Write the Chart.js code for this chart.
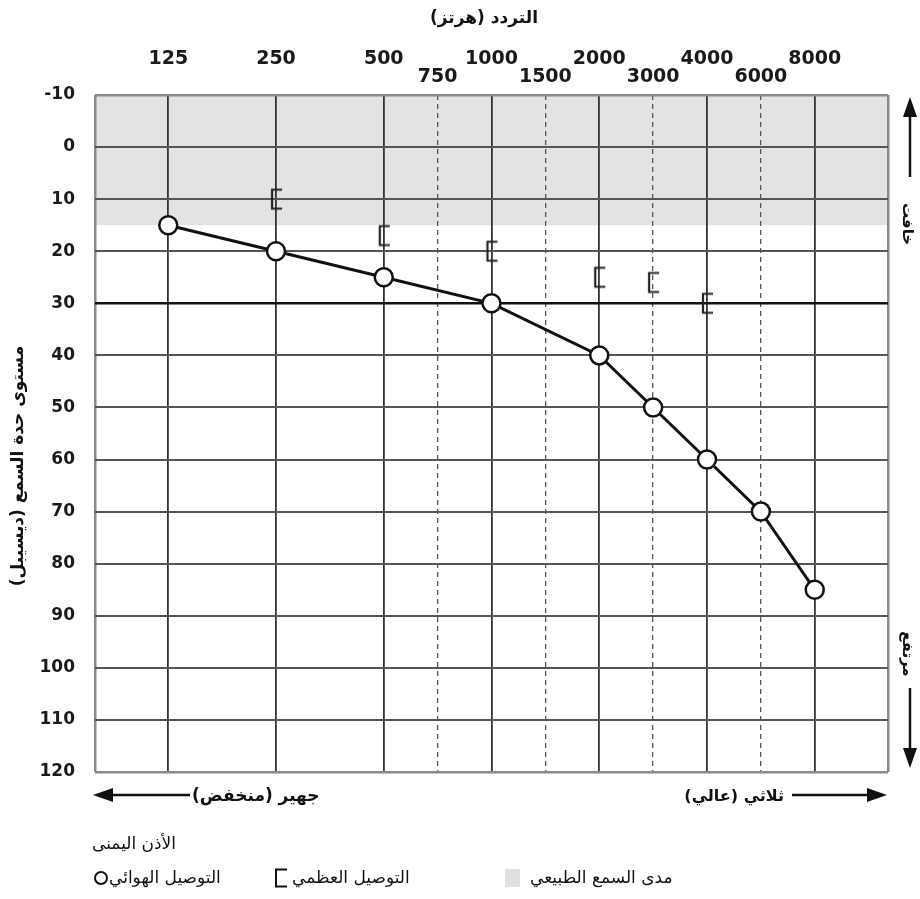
<!DOCTYPE html>
<html lang="ar">
<head>
<meta charset="utf-8">
<title>مخطط السمع</title>
<script src="https://cdn.jsdelivr.net/npm/chart.js@4.4.1/dist/chart.umd.min.js"></script>
<style>
  html, body { margin: 0; padding: 0; background: #fff; }
  canvas { display: block; }
</style>
</head>
<body>
<canvas id="audiogram" width="920" height="899"></canvas>
<script>
// air conduction (circles, joined by a line)
const airFreqs = [125, 250, 500, 1000, 2000, 3000, 4000, 6000, 8000];
const airDb = [15, 20, 25, 30, 40, 50, 60, 70, 85];

// bone conduction (brackets)
const boneFreqs = [250, 500, 1000, 2000, 3000, 4000];
const boneDb = [10, 17, 20, 25, 26, 30];

// axis ticks
const freqTicks = [125, 250, 500, 750, 1000, 1500, 2000, 3000, 4000, 6000, 8000];
const halfOctaves = [750, 1500, 3000, 6000];
const dbMin = -10;
const dbMax = 120;
const normalRange = [-10, 15];

// texts
const xTitle = 'التردد (هرتز)';
const yTitle = 'مستوى حدة السمع (ديسيبل)';
const lowLabel = 'جهير (منخفض)';
const highLabel = 'ثلاثي (عالي)';
const softLabel = 'خافت';
const loudLabel = 'مرتفع';
const earLabel = 'الأذن اليمنى';
const airLabel = 'التوصيل الهوائي';
const boneLabel = 'التوصيل العظمي';
const rangeLabel = 'مدى السمع الطبيعي';

const FONT = '"DejaVu Sans", sans-serif';

// audiogram x axis: octaves above 125 Hz, inter-octave frequencies sit half way
function octavePos(f) {
    return Math.round(Math.log2(f / 125) * 2) / 2;
}
const xMin = -0.68;
const xMax = octavePos(8000) + 0.68;

function freqAt(pos) {
    return freqTicks.find(f => octavePos(f) === pos);
}

function bracket(c, x, y, w, h) {
    c.beginPath();
    c.moveTo(x + w, y - h / 2);
    c.lineTo(x, y - h / 2);
    c.lineTo(x, y + h / 2);
    c.lineTo(x + w, y + h / 2);
    c.stroke();
}

// point image for bone conduction
const boneMark = document.createElement('canvas');
boneMark.width = 16;
boneMark.height = 24;
(function() {
    const c = boneMark.getContext('2d');
    c.strokeStyle = '#222';
    c.lineWidth = 2.2;
    bracket(c, 4, 12, 10, 19);
})();

function arrow(c, x1, y1, x2, y2) {
    const ang = Math.atan2(y2 - y1, x2 - x1);
    const len = 20, half = 7;
    const bx = x2 - Math.cos(ang) * len;
    const by = y2 - Math.sin(ang) * len;
    c.beginPath();
    c.moveTo(x1, y1);
    c.lineTo(bx, by);
    c.stroke();
    c.beginPath();
    c.moveTo(x2, y2);
    c.lineTo(bx - Math.sin(ang) * half, by + Math.cos(ang) * half);
    c.lineTo(bx + Math.sin(ang) * half, by - Math.cos(ang) * half);
    c.closePath();
    c.fill();
}

const decorations = {
    id: 'decorations',
    beforeDraw(chart) {
        const c = chart.ctx;
        const area = chart.chartArea;
        const y = chart.scales.y;
        c.save();
        c.fillStyle = '#fff';
        c.fillRect(0, 0, chart.width, chart.height);
        c.fillStyle = '#e3e3e3';
        const top = y.getPixelForValue(normalRange[0]);
        const bottom = y.getPixelForValue(normalRange[1]);
        c.fillRect(area.left, top, area.right - area.left, bottom - top);
        c.restore();
    },
    afterDraw(chart) {
        const c = chart.ctx;
        c.save();
        c.direction = 'rtl';
        c.fillStyle = '#111';
        c.strokeStyle = '#111';
        c.textBaseline = 'middle';

        // titles
        c.font = 'bold 17px ' + FONT;
        c.textAlign = 'center';
        c.fillText(xTitle, 484, 19);

        c.save();
        c.translate(19, 466);
        c.rotate(-Math.PI / 2);
        c.fillText(yTitle, 0, 0);
        c.restore();

        // right side: faint / loud
        c.lineWidth = 2.5;
        arrow(c, 910, 177, 910, 97);
        arrow(c, 910, 688, 910, 768);
        c.font = 'bold 15px ' + FONT;
        c.save();
        c.translate(907, 224);
        c.rotate(Math.PI / 2);
        c.fillText(softLabel, 0, 0);
        c.restore();
        c.save();
        c.translate(907, 654);
        c.rotate(Math.PI / 2);
        c.fillText(loudLabel, 0, 0);
        c.restore();

        // bottom: low / high
        arrow(c, 190, 795, 93, 795);
        arrow(c, 792, 795, 887, 795);
        c.font = 'bold 17px ' + FONT;
        c.textAlign = 'left';
        c.fillText(lowLabel, 192, 797);
        c.font = 'bold 16px ' + FONT;
        c.textAlign = 'right';
        c.fillText(highLabel, 784, 797);

        // legend
        c.font = '17px ' + FONT;
        c.textAlign = 'left';
        c.fillText(earLabel, 92, 845);

        c.lineWidth = 2;
        c.beginPath();
        c.arc(101, 878, 6, 0, Math.PI * 2);
        c.stroke();
        c.fillText(airLabel, 109, 879);

        c.lineWidth = 2;
        bracket(c, 276, 878, 11, 17);
        c.fillText(boneLabel, 292, 879);

        c.fillStyle = '#e0e0e0';
        c.fillRect(505, 869, 15, 18);
        c.fillStyle = '#111';
        c.fillText(rangeLabel, 530, 879);
        c.restore();
    }
};

const ctx = document.getElementById('audiogram').getContext('2d');

new Chart(ctx, {
    type: 'line',
    data: {
        datasets: [{
            label: airLabel,
            data: airFreqs.map((f, i) => ({x: octavePos(f), y: airDb[i]})),
            borderColor: '#111',
            borderWidth: 3,
            tension: 0,
            pointRadius: 9,
            pointBorderWidth: 2.5,
            pointBorderColor: '#111',
            pointBackgroundColor: '#fff'
        }, {
            label: boneLabel,
            data: boneFreqs.map((f, i) => ({x: octavePos(f), y: boneDb[i]})),
            showLine: false,
            pointStyle: boneMark
        }]
    },
    options: {
        responsive: false,
        animation: false,
        events: [],
        layout: {padding: {top: 0, left: 0, right: 32, bottom: 127}},
        plugins: {
            legend: {display: false},
            tooltip: {enabled: false}
        },
        scales: {
            x: {
                type: 'linear',
                position: 'top',
                min: xMin,
                max: xMax,
                afterBuildTicks(scale) {
                    const vals = [xMin].concat(freqTicks.map(octavePos), [xMax]);
                    scale.ticks = vals.map(v => ({value: v}));
                },
                afterFit(scale) {
                    scale.height = 95;
                    scale.paddingLeft = 0;
                    scale.paddingRight = 0;
                },
                ticks: {
                    autoSkip: false,
                    maxRotation: 0,
                    minRotation: 0,
                    padding: 9,
                    color: '#1a1a1a',
                    font: {family: FONT, size: 19, weight: 'bold', lineHeight: '18px'},
                    callback(value) {
                        const f = freqAt(value);
                        if (!f) return '';
                        if (halfOctaves.includes(f)) return [String(f)];
                        return [String(f), ''];
                    }
                },
                grid: {
                    drawTicks: false,
                    color(c) {
                        const f = freqAt(c.tick.value);
                        if (!f) return '#8a8a8a';
                        return halfOctaves.includes(f) ? '#555' : '#333';
                    },
                    lineWidth(c) {
                        const f = freqAt(c.tick.value);
                        if (!f) return 2.5;
                        return halfOctaves.includes(f) ? 1.3 : 1.8;
                    }
                },
                border: {
                    display: false,
                    dash(c) {
                        return c.tick && halfOctaves.includes(freqAt(c.tick.value)) ? [5, 4] : [];
                    }
                }
            },
            y: {
                reverse: true,
                min: dbMin,
                max: dbMax,
                afterFit(scale) {
                    scale.width = 95;
                    scale.paddingTop = 0;
                    scale.paddingBottom = 0;
                },
                ticks: {
                    stepSize: 10,
                    padding: 20,
                    color: '#1a1a1a',
                    font: {family: FONT, size: 17, weight: 'bold'}
                },
                grid: {
                    drawTicks: false,
                    color(c) {
                        const v = c.tick.value;
                        if (v === dbMin || v === dbMax) return '#8a8a8a';
                        return v === 30 ? '#111' : '#555';
                    },
                    lineWidth(c) {
                        const v = c.tick.value;
                        if (v === dbMin || v === dbMax) return 2.5;
                        return v === 30 ? 2.5 : 2;
                    }
                },
                border: {display: false}
            }
        }
    },
    plugins: [decorations]
});
</script>
</body>
</html>
